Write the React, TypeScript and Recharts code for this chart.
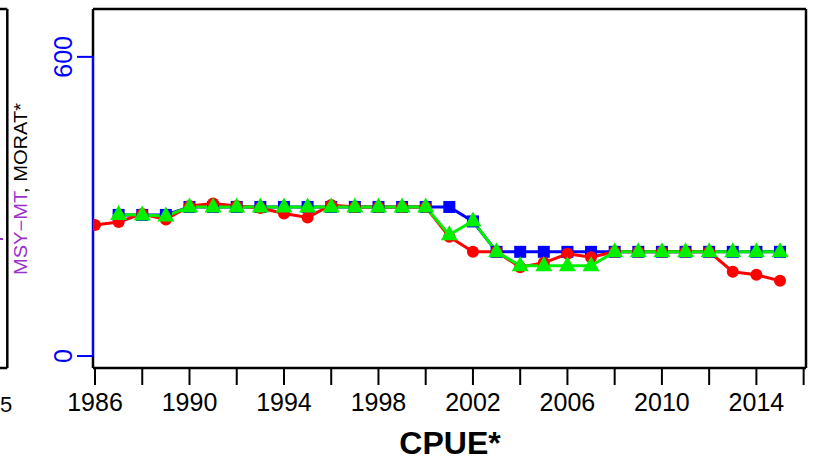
import React from "react";
import { LineChart, Line, XAxis, YAxis, ReferenceLine } from "recharts";

const years = [1986, 1987, 1988, 1989, 1990, 1991, 1992, 1993, 1994, 1995, 1996, 1997, 1998, 1999, 2000, 2001, 2002, 2003, 2004, 2005, 2006, 2007, 2008, 2009, 2010, 2011, 2012, 2013, 2014, 2015];
const redSeries = [263, 269, 285, 274, 301, 306, 301, 297, 286, 278, 303, 299, 299, 299, 299, 239, 209, 209, 178, 187, 205, 198, 209, 209, 209, 209, 209, 169, 163, 151];
const blueSeries = [null, 283, 283, 283, 299, 299, 299, 299, 299, 299, 299, 299, 299, 299, 299, 299, 270, 209, 209, 209, 209, 209, 209, 209, 209, 209, 209, 209, 209, 209];
const greenSeries = [null, 284, 283, 281, 299, 299, 299, 299, 299, 299, 299, 299, 299, 299, 299, 243, 271, 209, 181, 181, 181, 181, 209, 209, 209, 209, 209, 209, 209, 209];
const xTicks = [1986, 1988, 1990, 1992, 1994, 1996, 1998, 2000, 2002, 2004, 2006, 2008, 2010, 2012, 2014, 2016];
const yTicks = [0, 600];

const X_MIN = 1985.915;
const X_MAX = 2016.1;
const Y_MIN = -24;
const Y_MAX = 696;

const data = years.map((y, i) => ({ year: y, red: redSeries[i], blue: blueSeries[i], green: greenSeries[i] }));

const FONT = "'Liberation Sans', Arial, sans-serif";
const RED = "#ff0000";
const BLUE = "#0000ff";
const GREEN = "#00f000";
const PURPLE = "#9932cc";

const CircleDot = (p: any) => {
  if (p.cy == null || p.value == null) return <g key={p.key} />;
  return <circle key={p.key} cx={p.cx} cy={p.cy} r={6} fill={RED} stroke="none" />;
};
const SquareDot = (p: any) => {
  if (p.cy == null || p.value == null) return <g key={p.key} />;
  return <rect key={p.key} x={p.cx - 6} y={p.cy - 6} width={12} height={12} fill={BLUE} stroke="none" />;
};
const TriDot = (p: any) => {
  if (p.cy == null || p.value == null) return <g key={p.key} />;
  const { cx, cy } = p;
  return (
    <polygon
      key={p.key}
      points={`${cx},${cy - 9.5} ${cx - 8.5},${cy + 5.5} ${cx + 8.5},${cy + 5.5}`}
      fill={GREEN}
      stroke="none"
    />
  );
};

const XTick = (p: any) => {
  const v = p.payload.value;
  if ((v - 1986) % 4 !== 0) return <g />;
  return (
    <text x={p.x} y={p.y + 24} textAnchor="middle" fontSize={25} fontFamily={FONT} fill="#000">
      {v}
    </text>
  );
};

const YTick = (p: any) => {
  return (
    <text
      x={0}
      y={0}
      transform={`translate(${p.x - 3},${p.y}) rotate(-90)`}
      textAnchor="middle"
      fontSize={25}
      fontFamily={FONT}
      fill={BLUE}
    >
      {p.payload.value}
    </text>
  );
};

export default function App() {
  return (
    <div style={{ position: "absolute", left: 0, top: 0, width: 817, height: 466, background: "#fff" }}>
      <LineChart width={817} height={466} data={data} margin={{ top: 9, right: 11, bottom: 0, left: 0 }}>
        <XAxis
          dataKey="year"
          type="number"
          domain={[X_MIN, X_MAX]}
          allowDataOverflow
          ticks={xTicks}
          interval={0}
          height={98}
          axisLine={false}
          tickSize={17}
          tickLine={{ stroke: "#000", strokeWidth: 2 }}
          tick={XTick}
        />
        <YAxis
          type="number"
          domain={[Y_MIN, Y_MAX]}
          allowDataOverflow
          ticks={yTicks}
          interval={0}
          width={93}
          axisLine={false}
          tickSize={16}
          tickLine={{ stroke: BLUE, strokeWidth: 2 }}
          tick={YTick}
        />
        <ReferenceLine segment={[{ x: X_MIN, y: Y_MAX }, { x: X_MAX, y: Y_MAX }]} stroke="#000" strokeWidth={2.5} ifOverflow="visible" />
        <ReferenceLine segment={[{ x: X_MAX, y: Y_MAX }, { x: X_MAX, y: Y_MIN }]} stroke="#000" strokeWidth={2.5} ifOverflow="visible" />
        <ReferenceLine segment={[{ x: X_MIN, y: Y_MIN }, { x: X_MAX, y: Y_MIN }]} stroke="#000" strokeWidth={2.5} ifOverflow="visible" />
        <ReferenceLine segment={[{ x: X_MIN, y: 600 }, { x: X_MIN, y: Y_MAX }]} stroke="#000" strokeWidth={2.5} ifOverflow="visible" />
        <ReferenceLine segment={[{ x: X_MIN, y: Y_MIN }, { x: X_MIN, y: 0 }]} stroke="#000" strokeWidth={2.5} ifOverflow="visible" />
        <ReferenceLine segment={[{ x: X_MIN, y: 0 }, { x: X_MIN, y: 600 }]} stroke={BLUE} strokeWidth={2.5} ifOverflow="visible" />
        <Line dataKey="blue" stroke={BLUE} strokeWidth={3} dot={SquareDot} isAnimationActive={false} connectNulls={false} />
        <Line dataKey="red" stroke={RED} strokeWidth={3} dot={CircleDot} isAnimationActive={false} />
        <Line dataKey="green" stroke={GREEN} strokeWidth={3} dot={TriDot} isAnimationActive={false} connectNulls={false} />
      </LineChart>
      <svg
        width={817}
        height={466}
        style={{ position: "absolute", left: 0, top: 0, pointerEvents: "none" }}
      >
        <line x1={7.3} y1={9} x2={7.3} y2={368} stroke="#000" strokeWidth={2.5} />
        <line x1={0} y1={9} x2={7.3} y2={9} stroke="#000" strokeWidth={2.5} />
        <line x1={0} y1={368} x2={7.3} y2={368} stroke="#000" strokeWidth={2.5} />
        <line x1={0} y1={239} x2={3} y2={239} stroke={PURPLE} strokeWidth={2} />
        <text x={0} y={411.5} textAnchor="start" fontSize={22} fontFamily={FONT} fill="#000">
          5
        </text>
        <text
          x={0}
          y={0}
          transform="translate(27,189) rotate(-90)"
          textAnchor="middle"
          fontSize={18}
          fontFamily={FONT}
          textLength={172}
          lengthAdjust="spacingAndGlyphs"
        >
          <tspan fill={PURPLE}>MSY−MT</tspan>
          <tspan fill="#000">, MORAT*</tspan>
        </text>
        <text x={450} y={454} textAnchor="middle" fontSize={32} fontWeight="bold" fontFamily={FONT} fill="#000">
          CPUE*
        </text>
      </svg>
    </div>
  );
}
